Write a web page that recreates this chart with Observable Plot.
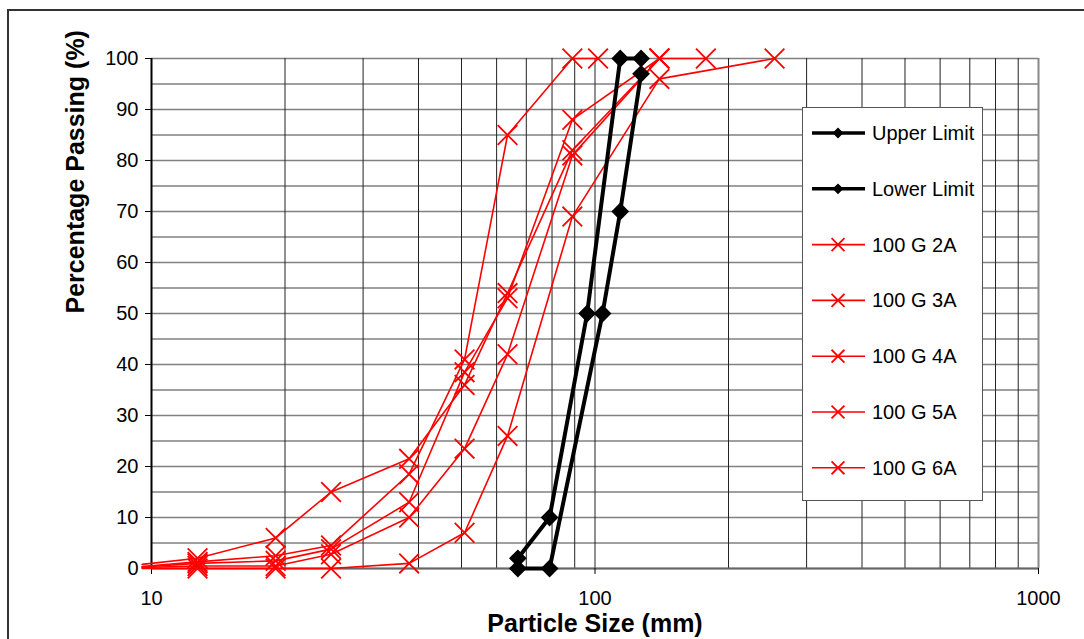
<!DOCTYPE html>
<html>
<head>
<meta charset="utf-8">
<script src="https://cdn.jsdelivr.net/npm/d3@7"></script>
<script src="https://cdn.jsdelivr.net/npm/@observablehq/plot@0.6"></script>
<style>
  html, body { margin: 0; padding: 0; background: #fff; }
  body { font-family: "Liberation Sans", Arial, sans-serif; }
  #wrap { position: relative; width: 1084px; height: 639px; overflow: hidden; }
  #frame { position: absolute; left: 7px; top: 9px; width: 1200px; height: 800px;
           border-left: 2px solid #333; border-top: 2px solid #333; box-sizing: border-box; }
  #chart { position: absolute; left: 0; top: 0; }
  #legend { position: absolute; left: 802px; top: 107px; }
</style>
</head>
<body>
<div id="wrap">
  <div id="frame"></div>
  <div id="chart"></div>
  <div id="legend"></div>
</div>
<script>
// ---- Data ----
// sieve sizes (mm) for the sample gradings
const sizes = [9.525, 12.7, 19.05, 25.4, 38.1, 50.8, 63.5, 88.9, 101.6, 139.7, 177.8, 254];
const g2A = [0.8, 2.0, 6.0, 15.0, 21.5, 36.0, 54.0, 82.0, null, 100, 100, null];
const g3A = [0.4, 1.3, 2.5, 4.5, 18.5, 41.0, 85.0, 100, 100, null, null, null];
const g4A = [0.3, 1.0, 1.5, 3.8, 13.0, 38.5, 53.0, 88.0, null, 100, null, null];
const g5A = [0.2, 0.5, 0.5, 2.8, 10.0, 23.5, 42.0, 81.0, null, 100, null, null];
const g6A = [0.0, 0.0, 0.0, 0.0, 1.0, 7.0, 26.0, 69.0, null, 96, null, 100];
const sampleNames = ["100 G 2A", "100 G 3A", "100 G 4A", "100 G 5A", "100 G 6A"];

// grading envelope
const upperSizes = [67, 79, 96, 114, 127];
const upperValues = [2, 10, 50, 100, 100];
const lowerSizes = [67, 79, 104, 114, 127];
const lowerValues = [0, 0, 50, 70, 97];
const limitNames = ["Upper Limit", "Lower Limit"];

// axes
const xTicks = [10, 100, 1000];
const yTicks = [0, 10, 20, 30, 40, 50, 60, 70, 80, 90, 100];
const xGrid = [10, 20, 30, 40, 50, 60, 70, 80, 90, 100, 200, 300, 400, 500, 600, 700, 800, 900, 1000];
const yGrid = [0, 5, 10, 15, 20, 25, 30, 35, 40, 45, 50, 55, 60, 65, 70, 75, 80, 85, 90, 95, 100];
const xTitle = "Particle Size (mm)";
const yTitle = "Percentage Passing (%)";

// ---- Build tables ----
const sampleSeries = [g2A, g3A, g4A, g5A, g6A];
const redRows = sampleSeries.flatMap((vals, k) =>
  sizes.map((x, i) => ({series: sampleNames[k], x, y: vals[i]})).filter(d => d.y != null));
const limitRows = [
  ...upperSizes.map((x, i) => ({series: limitNames[0], x, y: upperValues[i]})),
  ...lowerSizes.map((x, i) => ({series: limitNames[1], x, y: lowerValues[i]}))
];

const chart = Plot.plot({
  width: 1084,
  height: 639,
  marginLeft: 151,
  marginRight: 46,
  marginTop: 58,
  marginBottom: 71,
  style: {background: "transparent", fontFamily: "Liberation Sans, Arial, sans-serif", fontSize: "20px", color: "#000"},
  x: {type: "log", domain: [10, 1000], label: null},
  y: {domain: [0, 100], label: null},
  marks: [
    Plot.ruleY(yGrid, {stroke: "#808080", strokeWidth: 1.5}),
    Plot.ruleX(xGrid, {stroke: "#222", strokeWidth: 1}),
    Plot.ruleX([1000], {stroke: "#888", strokeWidth: 2}),
    Plot.ruleY([0], {stroke: "#666", strokeWidth: 2}),
    Plot.ruleX([10], {stroke: "#000", strokeWidth: 2}),
    Plot.axisX({ticks: xTicks, tickSize: 6, tickPadding: 16, tickFormat: d => String(d), fontSize: 20, stroke: "#000", label: null}),
    Plot.axisY({ticks: yTicks, tickSize: 6, tickPadding: 7, tickFormat: d => String(d), fontSize: 20, stroke: "#000", label: null}),
    Plot.line(redRows, {x: "x", y: "y", z: "series", stroke: "#ff0000", strokeWidth: 1.6, curve: "linear"}),
    Plot.dot(redRows.filter(d => d.x >= 10), {x: "x", y: "y", symbol: "times", r: 9, stroke: "#ff0000", strokeWidth: 1.8, fill: "none"}),
    Plot.line(limitRows, {x: "x", y: "y", z: "series", stroke: "#000", strokeWidth: 4}),
    Plot.dot(limitRows, {x: "x", y: "y", symbol: "diamond2", r: 8, fill: "#000", stroke: "none"}),
    Plot.text([xTitle], {frameAnchor: "bottom", dy: 55, lineAnchor: "middle", fontSize: 25, fontWeight: "bold", fill: "#000"}),
    Plot.text([yTitle], {frameAnchor: "left", dx: -76, rotate: -90, lineAnchor: "middle", fontSize: 25, fontWeight: "bold", fill: "#000"})
  ]
});
document.getElementById("chart").appendChild(chart);

// ---- Legend (inside the plot area, as in the reference) ----
const legendItems = [
  ...limitNames.map(n => ({name: n, kind: "limit"})),
  ...sampleNames.map(n => ({name: n, kind: "sample"}))
];
const lw = 181, lh = 394;
const lsvg = d3.select("#legend").append("svg").attr("width", lw).attr("height", lh);
lsvg.append("rect").attr("x", 0.5).attr("y", 0.5).attr("width", lw - 1).attr("height", lh - 1)
  .attr("fill", "#fff").attr("stroke", "#555").attr("stroke-width", 1);
legendItems.forEach((it, i) => {
  const cy = 26 + i * 55.8;
  const g = lsvg.append("g").attr("transform", `translate(0,${cy})`);
  if (it.kind === "limit") {
    g.append("line").attr("x1", 10).attr("x2", 63).attr("y1", 0).attr("y2", 0).attr("stroke", "#000").attr("stroke-width", 3.5);
    g.append("path").attr("d", d3.symbol(d3.symbolDiamond2, 75)()).attr("transform", "translate(36,0)").attr("fill", "#000");
  } else {
    g.append("line").attr("x1", 10).attr("x2", 63).attr("y1", 0).attr("y2", 0).attr("stroke", "#ff0000").attr("stroke-width", 1.6);
    g.append("path").attr("d", d3.symbol(d3.symbolTimes, 110)()).attr("transform", "translate(36,0)").attr("fill", "none").attr("stroke", "#ff0000").attr("stroke-width", 1.8);
  }
  g.append("text").attr("x", 70).attr("y", 0).attr("dy", "0.35em").attr("font-size", 20)
    .attr("font-family", "Liberation Sans, Arial, sans-serif").attr("fill", "#000").text(it.name);
});
</script>
</body>
</html>
